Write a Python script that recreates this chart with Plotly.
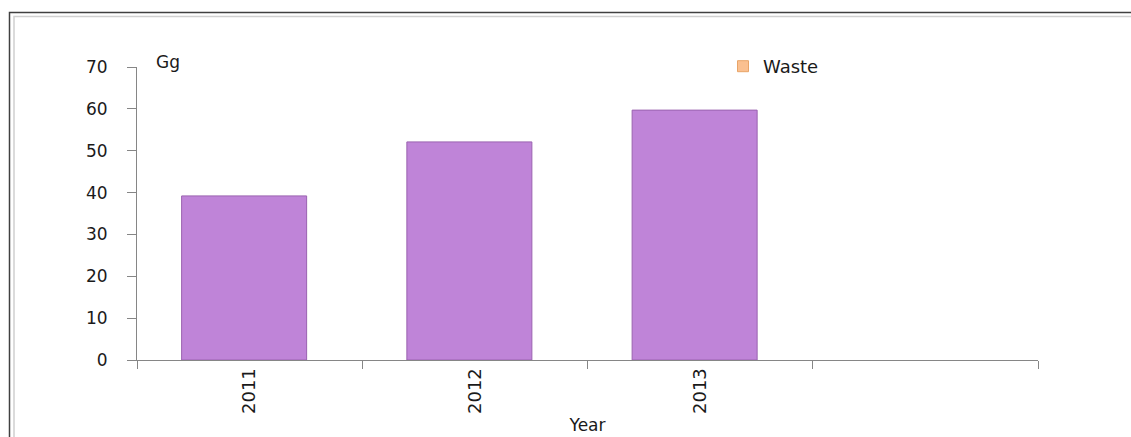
import plotly.graph_objects as go

years = ["2011", "2012", "2013", " "]
waste = [39.2, 52.1, 59.7, None]
y_ticks = [0, 10, 20, 30, 40, 50, 60, 70]

W, H = 1131, 437
L, R, T, B = 137, 1038, 67, 360

def px(x):
    return (x - L) / (R - L)

def py(y):
    return (B - y) / (B - T)

cat_w = (R - L) / 4.0
bar_w = 0.555
shift = 5.5 / cat_w

fig = go.Figure()
fig.add_trace(go.Bar(
    x=years, y=waste, width=bar_w, offset=-bar_w / 2 - shift,
    marker=dict(color="#BF84D8", line=dict(color="#9A62B0", width=1)),
    showlegend=False,
))
fig.add_trace(go.Scatter(
    x=[None], y=[None], mode="markers", name="Waste",
    marker=dict(symbol="square", size=11, color="#FAC090",
                line=dict(color="#E8A468", width=1)),
))

axis_col = "#868686"
fig.update_layout(
    width=W, height=H,
    margin=dict(l=L, r=W - R, t=T, b=H - B),
    plot_bgcolor="white", paper_bgcolor="white",
    font=dict(family="DejaVu Sans", size=17, color="#1a1a1a"),
    showlegend=True,
    legend=dict(x=px(723), y=py(48), xanchor="left", yanchor="top",
                bgcolor="rgba(0,0,0,0)", itemwidth=30,
                font=dict(size=18)),
    xaxis=dict(
        type="category", categoryorder="array", categoryarray=years,
        range=[-0.5, 3.5], showline=True, linecolor=axis_col, linewidth=1,
        ticks="outside", tickson="boundaries", ticklen=8, tickcolor=axis_col,
        tickangle=-90, showgrid=False, zeroline=False, automargin=False,
        tickfont=dict(size=18),
        title=dict(text="Year", standoff=6, font=dict(size=17)),
    ),
    yaxis=dict(
        range=[0, 70], tickvals=y_ticks, showline=True, linecolor=axis_col,
        linewidth=1, ticks="outside", ticklen=9, tickcolor=axis_col,
        showgrid=False, zeroline=False, ticklabelstandoff=16, automargin=False,
    ),
    annotations=[dict(text="Gg", x=px(154), y=py(62), xref="paper", yref="paper",
                      xanchor="left", yanchor="middle", showarrow=False,
                      font=dict(size=17))],
    shapes=[
        dict(type="rect", xref="paper", yref="paper",
             x0=px(9.5), x1=px(1200), y0=py(12.5), y1=py(500),
             line=dict(color="#404040", width=1.5), layer="below"),
        dict(type="rect", xref="paper", yref="paper",
             x0=px(14), x1=px(1200), y0=py(16.5), y1=py(500),
             line=dict(color="#D0D0D0", width=1.5), layer="below"),
    ],
)

fig.write_html("out.html")
